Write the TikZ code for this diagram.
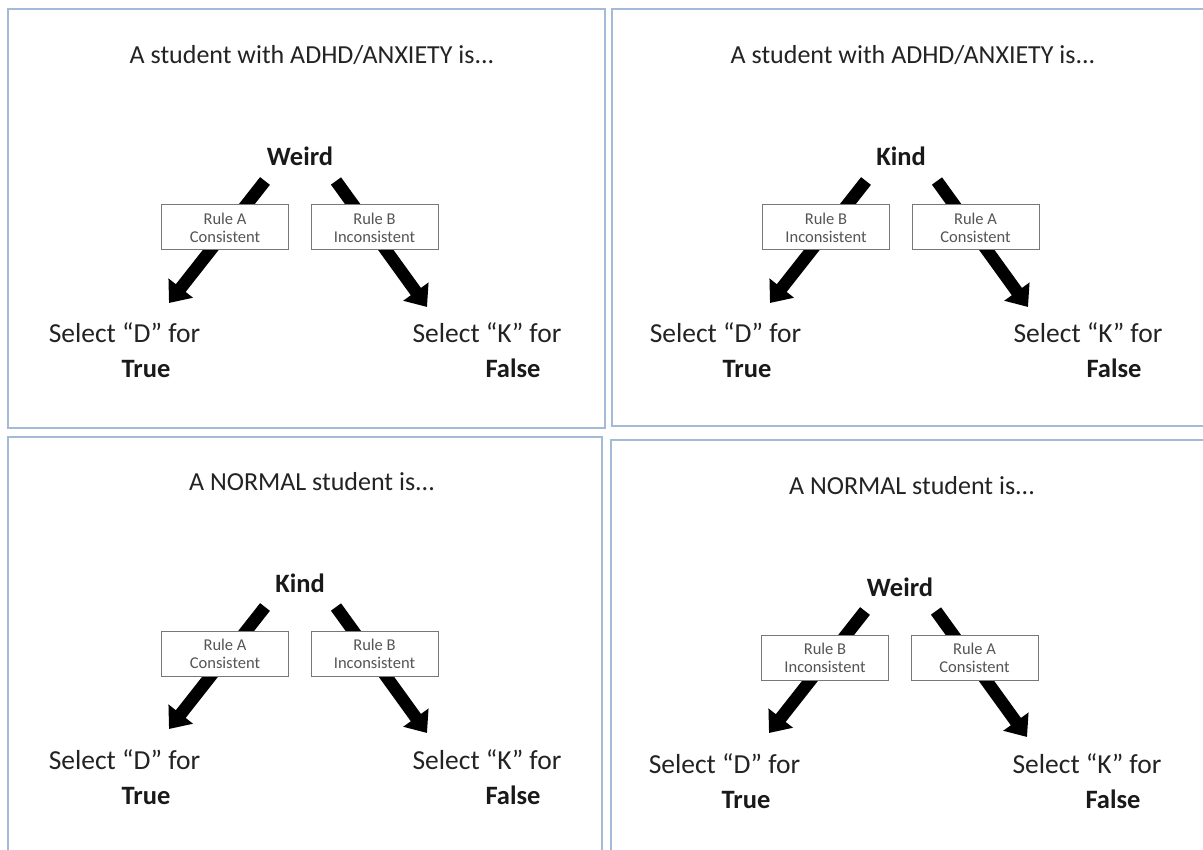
\documentclass[tikz,border=0pt]{standalone}
\usepackage{fontspec}
\setmainfont{Carlito}
\usetikzlibrary{arrows.meta}
\definecolor{panelc}{RGB}{165,186,214}
\definecolor{boxc}{RGB}{120,120,120}
\definecolor{boxtext}{RGB}{85,85,85}
\definecolor{maintext}{RGB}{35,35,35}
\tikzset{
  panel/.style={draw=panelc, line width=1.6pt},
  titletext/.style={anchor=base, inner sep=0pt, text=maintext, font=\fontsize{26}{30}\selectfont},
  wordtext/.style={anchor=base, inner sep=0pt, text=black!90, font=\fontsize{26.5}{30}\selectfont\bfseries},
  seltext/.style={anchor=base, inner sep=0pt, text=maintext, font=\fontsize{27.5}{30}\selectfont},
  rulebox/.style={draw=boxc, line width=1pt, fill=white, text=boxtext, inner sep=0pt,
    minimum width=127pt, minimum height=45pt, align=center, font=\fontsize{16.5}{18}\selectfont},
  bigarrow/.style={line width=12.5pt, black, -{Triangle[width=30pt,length=19pt]}}
}
\newcommand\mypanel[9]{%
\begin{scope}[shift={(#2,#3)}, name prefix=#1-]
  \node[titletext] (title) at (312,64) {#4};
  \node[wordtext] (word) at (300,166) {#5};
  \coordinate (lt) at (265,181);
  \coordinate (lh) at (169,303);
  \coordinate (rt) at (336,181);
  \coordinate (rh) at (427,307);
  \draw[bigarrow] (lt) -- (lh);
  \draw[bigarrow] (rt) -- (rh);
  \node[rulebox] (lbox) at (225,227.5) {#6\\#7};
  \node[rulebox] (rbox) at (374.5,227.5) {#8\\#9};
  \node[seltext] (seld) at (124.5,343) {Select “D” for};
  \node[wordtext] (true) at (146,378) {True};
  \node[seltext] (selk) at (487,343) {Select “K” for};
  \node[wordtext] (false) at (513,378) {False};
\end{scope}}
\begin{document}
\begin{tikzpicture}[x=1pt, y=-1pt]
  \fill[white] (0,0) rectangle (1203,850);
  \useasboundingbox (0,0) rectangle (1203,850);
  \draw[panel] (8,9) rectangle (605,428);
  \draw[panel] (612,9) rectangle (1215,426);
  \draw[panel] (8,437) rectangle (602,870);
  \draw[panel] (611,440) rectangle (1215,870);
  \mypanel{tl}{0}{0}{A student with ADHD/ANXIETY is...}{Weird}{Rule A}{Consistent}{Rule B}{Inconsistent}
  \mypanel{tr}{601}{0}{A student with ADHD/ANXIETY is...}{Kind}{Rule B}{Inconsistent}{Rule A}{Consistent}
  \mypanel{bl}{0}{426}{A NORMAL student is...}{Kind}{Rule A}{Consistent}{Rule B}{Inconsistent}
  \mypanel{br}{600}{430}{A NORMAL student is...}{Weird}{Rule B}{Inconsistent}{Rule A}{Consistent}
\end{tikzpicture}
\end{document}
